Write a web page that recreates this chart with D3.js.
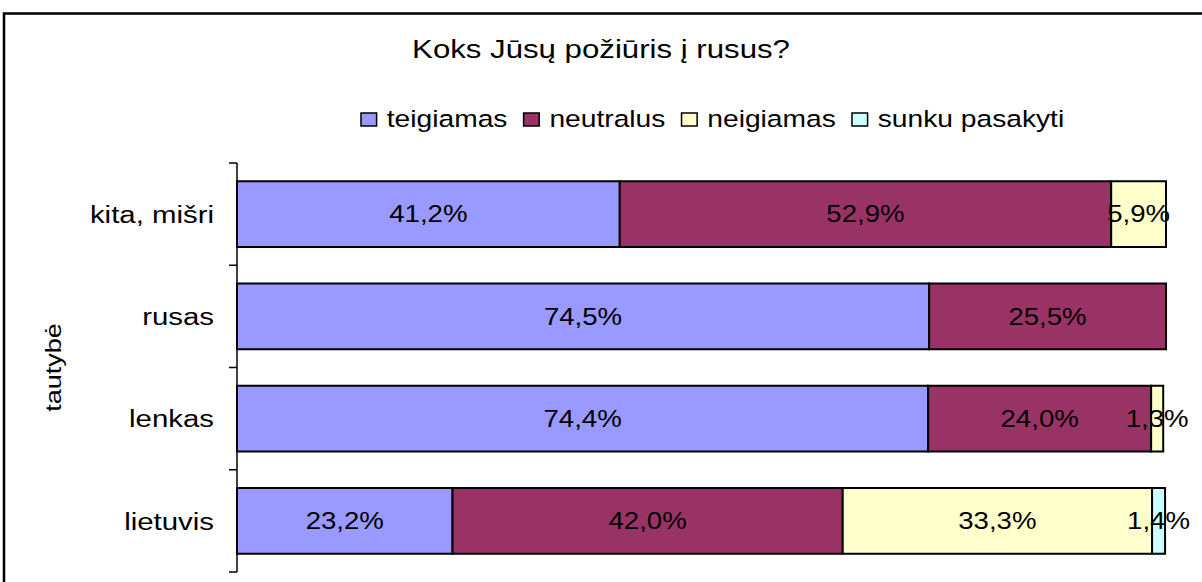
<!DOCTYPE html>
<html>
<head>
<meta charset="utf-8">
<script src="https://cdn.jsdelivr.net/npm/d3@7"></script>
<style>
  html, body { margin: 0; padding: 0; background: #fff; overflow: hidden; }
  text { font-family: "Liberation Sans", Arial, sans-serif; fill: #000; }
</style>
</head>
<body>
<svg id="chart"></svg>
<script>
// data
const categories = ["kita, mišri", "rusas", "lenkas", "lietuvis"];
const seriesNames = ["teigiamas", "neutralus", "neigiamas", "sunku pasakyti"];
const teigiamas = [41.2, 74.5, 74.4, 23.2];
const neutralus = [52.9, 25.5, 24.0, 42.0];
const neigiamas = [5.9, 0, 1.3, 33.3];
const sunkuPasakyti = [0, 0, 0, 1.4];
const seriesColors = ["#9999FF", "#993366", "#FFFFCC", "#CCFFFF"];

const W = 1202, H = 582;
const SX = 1.2; // original picture is stretched horizontally
const px = v => v / SX; // screen x -> inner x

const svg = d3.select("#chart")
  .attr("width", W).attr("height", H)
  .attr("viewBox", `0 0 ${W / SX} ${H}`)
  .attr("preserveAspectRatio", "none");

// outer frame (cut off by the window at right and bottom)
svg.append("rect")
  .attr("x", px(4)).attr("y", 13.5)
  .attr("width", px(W + 20)).attr("height", H + 20)
  .attr("fill", "#fff").attr("stroke", "#000")
  .attr("stroke-width", 2.5)
  .attr("vector-effect", "non-scaling-stroke");

// rows for stacking
const rows = categories.map((c, i) => ({
  cat: c,
  "teigiamas": teigiamas[i],
  "neutralus": neutralus[i],
  "neigiamas": neigiamas[i],
  "sunku pasakyti": sunkuPasakyti[i]
}));
const stacked = d3.stack().keys(seriesNames)(rows);

// scales
const x = d3.scaleLinear().domain([0, 100]).range([px(237), px(1166)]);
const y = d3.scaleBand().domain(categories).range([163, 572])
  .paddingInner(0.355).paddingOuter(0.1775);
const color = d3.scaleOrdinal().domain(seriesNames).range(seriesColors);
const fmt = v => d3.format(".1f")(v).replace(".", ",") + "%";

// bars
const layer = svg.selectAll("g.layer")
  .data(stacked)
  .enter().append("g")
  .attr("class", "layer")
  .attr("fill", d => color(d.key));

layer.selectAll("rect")
  .data(d => d.filter(s => s[1] - s[0] > 0))
  .enter().append("rect")
  .attr("x", d => x(d[0]))
  .attr("y", d => y(d.data.cat))
  .attr("width", d => x(d[1]) - x(d[0]))
  .attr("height", y.bandwidth())
  .attr("stroke", "#000")
  .attr("stroke-width", 2)
  .attr("vector-effect", "non-scaling-stroke");

// value labels
layer.selectAll("text")
  .data(d => d.filter(s => s[1] - s[0] > 0))
  .enter().append("text")
  .attr("x", d => (x(d[0]) + x(d[1])) / 2)
  .attr("y", d => y(d.data.cat) + y.bandwidth() / 2)
  .attr("dy", "0.36em")
  .attr("text-anchor", "middle")
  .attr("font-size", 23)
  .text(d => fmt(d[1] - d[0]));

// category axis, ticks between categories
const step = y.step();
const edges = categories.map(c => y(c) - (step - y.bandwidth()) / 2);
edges.push(edges[edges.length - 1] + step);
const axis = svg.append("g").attr("stroke", "#000").attr("stroke-width", 1.5);
axis.append("line")
  .attr("x1", x(0)).attr("x2", x(0))
  .attr("y1", edges[0]).attr("y2", edges[edges.length - 1])
  .attr("vector-effect", "non-scaling-stroke");
axis.selectAll("line.tick")
  .data(edges)
  .enter().append("line")
  .attr("class", "tick")
  .attr("x1", x(0) - px(8)).attr("x2", x(0))
  .attr("y1", d => d).attr("y2", d => d)
  .attr("vector-effect", "non-scaling-stroke");

svg.selectAll("text.cat")
  .data(categories)
  .enter().append("text")
  .attr("class", "cat")
  .attr("x", px(214))
  .attr("y", d => y(d) + y.bandwidth() / 2)
  .attr("dy", "0.36em")
  .attr("text-anchor", "end")
  .attr("font-size", 24.5)
  .text(d => d);

// axis title: glyphs are wide along the text direction, then rotated
const midY = (edges[0] + edges[edges.length - 1]) / 2;
svg.append("text")
  .attr("transform", `translate(${px(61)},${midY}) scale(${1 / SX},1) rotate(-90) scale(${SX},1)`)
  .attr("text-anchor", "middle")
  .attr("font-size", 22.5)
  .text("tautybė");

// title
svg.append("text")
  .attr("x", px(601)).attr("y", 58)
  .attr("text-anchor", "middle")
  .attr("font-size", 26)
  .text("Koks Jūsų požiūris į rusus?");

// legend
const legend = svg.append("g");
let lx = px(361);
seriesNames.forEach((name, i) => {
  legend.append("rect")
    .attr("x", lx).attr("y", 113)
    .attr("width", 13).attr("height", 13)
    .attr("fill", seriesColors[i])
    .attr("stroke", "#000").attr("stroke-width", 1.5)
    .attr("vector-effect", "non-scaling-stroke");
  const t = legend.append("text")
    .attr("x", lx + 21.5).attr("y", 127)
    .attr("font-size", 23.5)
    .text(name);
  lx += 21.5 + t.node().getComputedTextLength() + 13.5;
});
</script>
</body>
</html>
